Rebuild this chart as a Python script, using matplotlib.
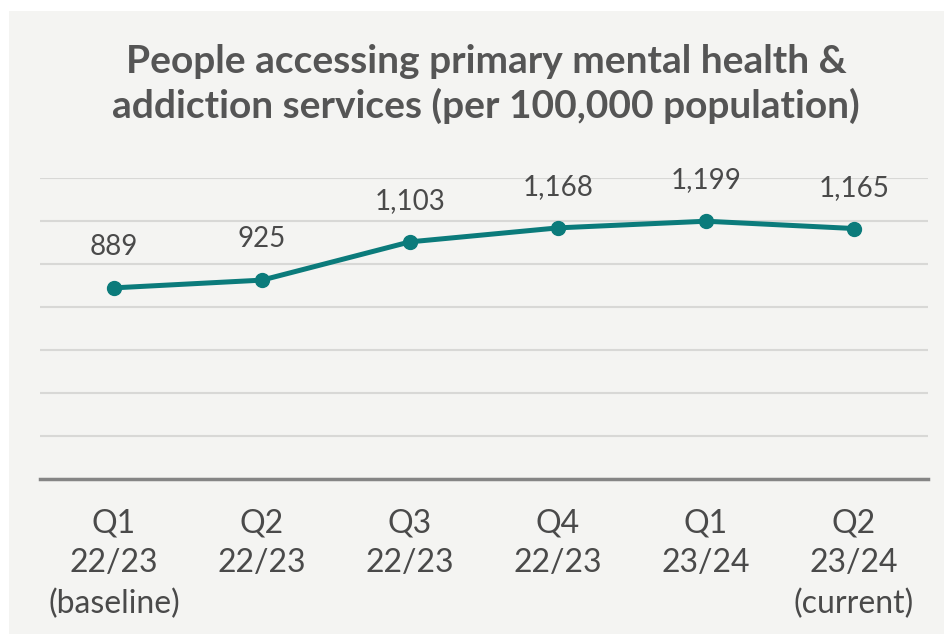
import matplotlib
matplotlib.use("Agg")
import matplotlib.pyplot as plt
from matplotlib.patches import Rectangle

categories = ["Q1\n22/23\n(baseline)", "Q2\n22/23", "Q3\n22/23", "Q4\n22/23", "Q1\n23/24", "Q2\n23/24\n(current)"]
values = [889, 925, 1103, 1168, 1199, 1165]
value_labels = ["889", "925", "1,103", "1,168", "1,199", "1,165"]
yticks = [0, 200, 400, 600, 800, 1000, 1200, 1400]
title = "People accessing primary mental health &\naddiction services (per 100,000 population)"

BG = "#f4f4f2"
TEAL = "#0b7b7b"
TEXT = "#4a4a4a"
FONT = ["Lato", "DejaVu Sans"]

fig = plt.figure(figsize=(9.44, 6.34), dpi=100)
fig.patch.set_facecolor("white")
fig.patches.append(Rectangle((9 / 944, 0), 1 - 9 / 944, 1 - 11 / 634, transform=fig.transFigure,
                             facecolor=BG, edgecolor="none", zorder=-10))

ax = fig.add_axes([40 / 944, 1 - 479 / 634, 888 / 944, (479 - 178) / 634])
ax.set_facecolor(BG)
ax.patch.set_alpha(0)

x = list(range(len(categories)))
ax.plot(x, values, color=TEAL, lw=3.6, marker="o", ms=10, zorder=3, solid_capstyle="round")
for xi, v, lab in zip(x, values, value_labels):
    ax.annotate(lab, (xi, v), xytext=(0, 29.5), textcoords="offset points", ha="center", va="center",
                fontsize=20, color=TEXT, family=FONT)

ax.set_xlim(-0.5, len(categories) - 0.5)
ax.set_ylim(yticks[0], yticks[-1])
ax.set_yticks(yticks)
ax.yaxis.grid(True, color="#d8d8d6", lw=1.5)
ax.set_axisbelow(True)
ax.tick_params(axis="y", left=False, labelleft=False)
ax.set_xticks(x)
ax.set_xticklabels(categories, fontsize=23, color=TEXT, family=FONT, linespacing=1.42)
ax.tick_params(axis="x", length=0, pad=21)
for s in ["top", "right", "left"]:
    ax.spines[s].set_visible(False)
ax.spines["bottom"].set_color("#858585")
ax.spines["bottom"].set_linewidth(2.5)

fig.text(0.515, 1 - 84 / 634, title, ha="center", va="center", fontsize=28, fontweight="bold",
         color="#555555", family=FONT, linespacing=1.3)

fig.savefig("out.png", dpi=100, facecolor=fig.get_facecolor())
